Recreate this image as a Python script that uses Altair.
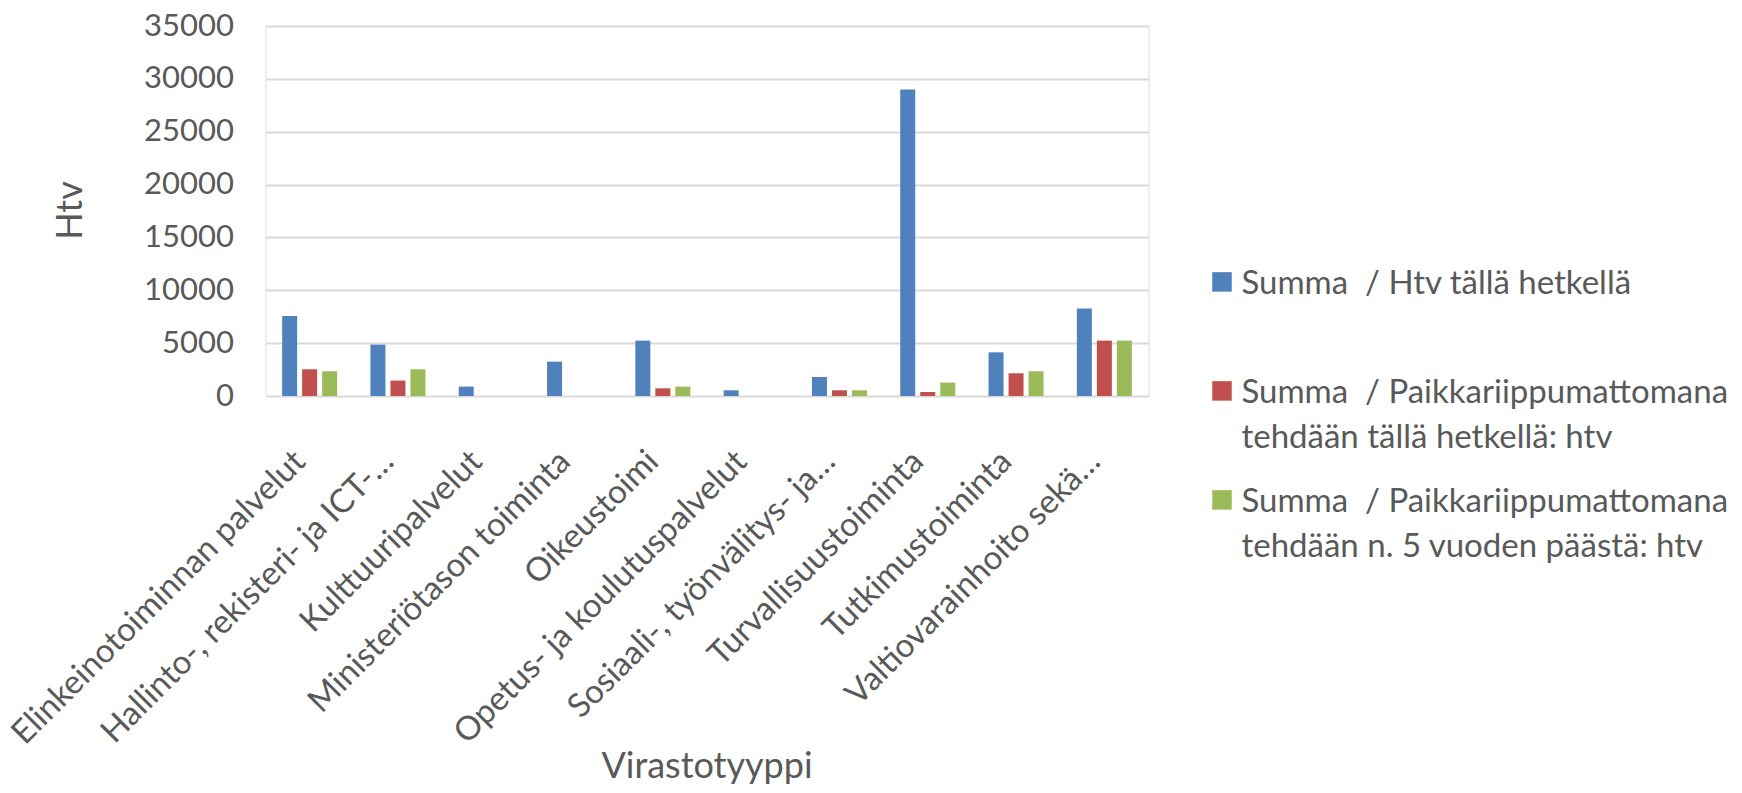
import altair as alt
import pandas as pd

categories = [
    "Elinkeinotoiminnan palvelut",
    "Hallinto-, rekisteri- ja ICT-…",
    "Kulttuuripalvelut",
    "Ministeriötason toiminta",
    "Oikeustoimi",
    "Opetus- ja koulutuspalvelut",
    "Sosiaali-, työnvälitys- ja…",
    "Turvallisuustoiminta",
    "Tutkimustoiminta",
    "Valtiovarainhoito sekä…",
]
series = [
    "Summa \u00a0/ Htv tällä hetkellä|",
    "Summa \u00a0/ Paikkariippumattomana|tehdään tällä hetkellä: htv",
    "Summa \u00a0/ Paikkariippumattomana|tehdään n. 5 vuoden päästä: htv",
]
htv_now = [7570, 4860, 890, 3250, 5240, 540, 1800, 29000, 4130, 8270]
remote_now = [2530, 1460, 0, 0, 730, 0, 540, 380, 2150, 5240]
remote_5y = [2340, 2530, 0, 0, 890, 0, 540, 1270, 2340, 5240]
colors = ["#4F81BD", "#C0504D", "#9BBB59"]
y_ticks = [0, 5000, 10000, 15000, 20000, 25000, 30000, 35000]

rows = []
for i, c in enumerate(categories):
    for s, vals in zip(series, [htv_now, remote_now, remote_5y]):
        rows.append({"Virastotyyppi": c, "series": s, "value": vals[i]})
df = pd.DataFrame(rows)

FONT = "Lato"
GRAY = "#595959"
FS_LABEL = 33
FS_TICK = 31
FS_TITLE = 36

chart = alt.Chart(df).mark_bar().encode(
    x=alt.X(
        "Virastotyyppi:N",
        sort=categories,
        scale=alt.Scale(paddingInner=0.377, paddingOuter=0.1885),
        axis=alt.Axis(
            title="Virastotyyppi",
            labelAngle=-45,
            labelAlign="right",
            labelBaseline="middle",
            labelFont=FONT,
            labelFontSize=FS_LABEL,
            labelColor=GRAY,
            labelLimit=800,
            labelOverlap=False,
            labelFlush=False,
            labelPadding=60,
            labelOffset=-9.5,
            ticks=False,
            domain=False,
            titleFont=FONT,
            titleFontSize=FS_TITLE,
            titleFontWeight="normal",
            titleColor=GRAY,
            titleX=441,
            titleY=381,
            titleAlign="center",
            titleBaseline="alphabetic",
        ),
    ),
    xOffset=alt.XOffset(
        "series:N", sort=series, scale=alt.Scale(paddingInner=0.25, paddingOuter=0)
    ),
    y=alt.Y(
        "value:Q",
        scale=alt.Scale(domain=[0, 35000], nice=False),
        axis=alt.Axis(
            values=y_ticks,
            format="d",
            title="Htv",
            labelFont=FONT,
            labelFontSize=FS_TICK,
            labelColor=GRAY,
            labelPadding=32,
            ticks=False,
            domain=False,
            gridColor="#d9d9d9",
            gridWidth=2,
            titleFont=FONT,
            titleFontSize=FS_TITLE,
            titleFontWeight="normal",
            titleColor=GRAY,
            titleX=-195,
            titleY=184,
            titleAlign="center",
            titleBaseline="middle",
        ),
    ),
    color=alt.Color(
        "series:N",
        scale=alt.Scale(domain=series, range=colors),
        legend=alt.Legend(
            title=None,
            orient="none",
            legendX=940,
            legendY=251,
            padding=0,
            symbolType="M-1,-2.19H1V-0.19H-1Z",
            symbolSize=380,
            symbolStrokeWidth=0,
            labelFont=FONT,
            labelFontSize=FS_LABEL,
            labelColor=GRAY,
            labelLimit=900,
            labelOffset=3,
            labelBaseline="alphabetic",
            rowPadding=30,
            labelExpr="split(datum.label, '|')",
        ),
    ),
).properties(
    width=883,
    height=370,
    padding={"left": 257.5, "top": 18, "right": 585.5, "bottom": 389},
    autosize=alt.AutoSizeParams(type="none"),
).configure_view(stroke=None).configure(
    style={"guide-label": {"lineHeight": 45}}
)

chart.save("out.html", embed_options={"renderer": "svg", "actions": False})
